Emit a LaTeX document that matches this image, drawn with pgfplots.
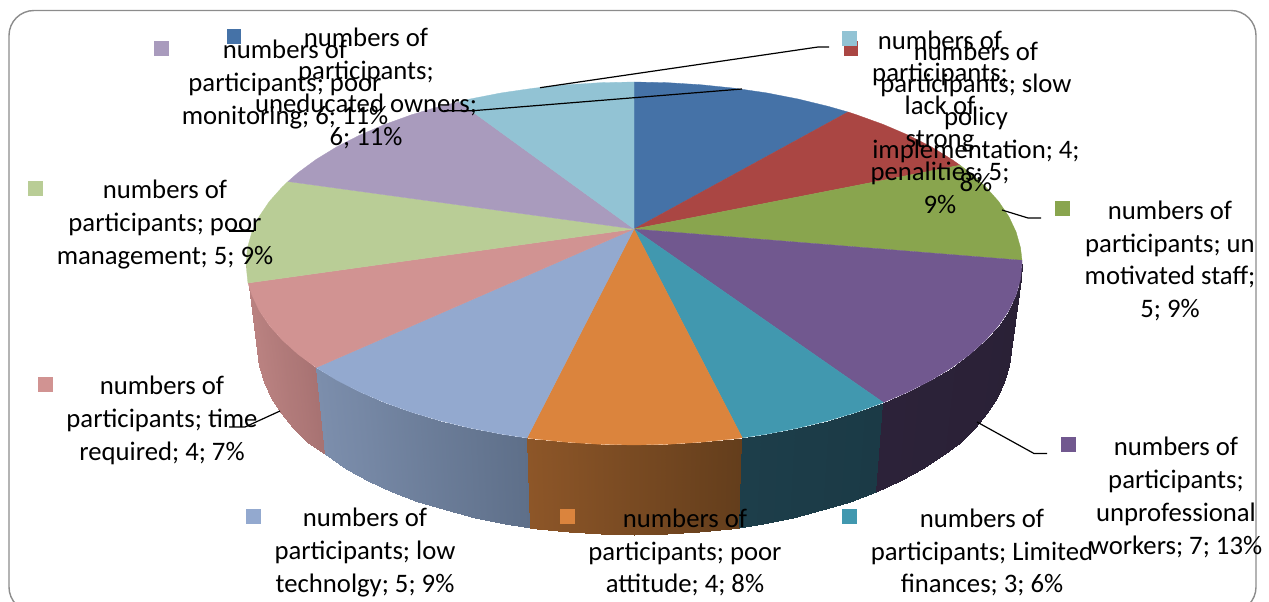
\documentclass[border=0pt]{standalone}
\usepackage{pgfplots}
\pgfplotsset{compat=1.18}
\usepackage{fontspec}
\setmainfont{Carlito}
% Office chart palette
\definecolor{cBlue}{HTML}{4572A7}
\definecolor{cRed}{HTML}{AA4643}
\definecolor{cGreen}{HTML}{89A54E}
\definecolor{cPurple}{HTML}{71588F}
\definecolor{cTeal}{HTML}{4198AF}
\definecolor{cOrange}{HTML}{DB843D}
\definecolor{cPeri}{HTML}{93A9CF}
\definecolor{cPink}{HTML}{D19392}
\definecolor{cLime}{HTML}{B9CD96}
\definecolor{cLilac}{HTML}{A99BBD}
\definecolor{cSky}{HTML}{92C3D4}
\tikzset{lbl/.style={align=center,inner sep=0pt,text=black,font=\fontsize{26.7}{32.8}\selectfont}}
\pgfplotsset{
  slice/.style={fill=#1,draw=#1,line width=0.3pt},
  key/.style={fill=#1,draw=none},
  leader/.style={black,line width=1.2pt},
  wall/.style={surf,shader=interp,mesh/rows=2,point meta=explicit},
}
\begin{document}
\begin{tikzpicture}
\useasboundingbox (0,0) rectangle (1269pt,602pt);
\begin{axis}[
  at={(0,0)},anchor=south west,
  scale only axis,width=1269pt,height=602pt,
  xmin=0,xmax=1269,ymin=0,ymax=602,y dir=reverse,
  hide axis,clip=true,point meta min=0,point meta max=1,
]
% outer frame of the chart area
\draw[color=black!45,line width=1.4pt,rounded corners=25pt] (axis cs:9,10.5) rectangle (axis cs:1256,612);

% rim of the disc, one strip per slice
\addplot[wall,colormap={w1}{rgb255=(186,130,129) rgb255=(167,114,114)}] table[x=x,y=y,meta=m] {
x y m
246 263.5 0
247.5 279.3 0.02
251.9 295 0.05
259.2 310.5 0.15
269.4 325.6 0.3
282.4 340.2 0.5
298 354.25 0.7
316.2 367.6 1
258 350 0
259.4 366.1 0.02
263.7 382.1 0.05
270.8 397.9 0.15
280.7 413.3 0.3
293.2 428.2 0.5
308.4 442.5 0.7
324.5 454 1
};
\addplot[wall,colormap={w2}{rgb255=(124,142,172) rgb255=(94,111,137)}] table[x=x,y=y,meta=m] {
x y m
316.2 367.6 0
336.8 380.2 0.1
359.6 391.8 0.2
384.6 402.5 0.33
411.4 412.2 0.46
440 420.7 0.6
470 428 0.73
501.3 434.1 0.88
527 438 1
324.5 454 0
346 468.9 0.1
368.1 480.8 0.2
392.3 491.7 0.33
418.3 501.5 0.46
446 510.2 0.6
475.1 517.7 0.73
505.4 523.8 0.88
530.4 527.8 1
};
\addplot[wall,colormap={w3}{rgb255=(141,86,40) rgb255=(100,62,28)}] table[x=x,y=y,meta=m] {
x y m
527 438 0
533.6 438.8 0.03
566.6 442.2 0.18
600.2 444.3 0.34
634 445 0.5
667.8 444.3 0.66
701.4 442.2 0.82
734.4 438.8 0.97
742.3 437.8 1
530.4 527.8 0
536.7 528.7 0.03
568.7 532.2 0.18
601.2 534.3 0.34
634 535 0.5
666.8 534.3 0.66
699.3 532.2 0.82
731.3 528.7 0.97
738.9 527.7 1
};
\addplot[wall,colormap={w4}{rgb255=(29,62,74) rgb255=(27,58,70)}] table[x=x,y=y,meta=m] {
x y m
742.3 437.8 0
766.7 434.1 0.17
798 428 0.4
828 420.7 0.62
856.6 412.2 0.82
883.4 402.5 1
738.9 527.7 0
762.6 523.8 0.17
792.9 517.7 0.4
822 510.2 0.62
849.7 501.5 0.82
875.7 491.7 1
};
\addplot[wall,colormap={w5}{rgb255=(44,34,57) rgb255=(42,33,54)}] table[x=x,y=y,meta=m] {
x y m
883.4 402.5 0
908.4 391.8 0.18
931.2 380.2 0.33
951.8 367.6 0.48
970 354.25 0.6
985.6 340.2 0.7
998.6 325.6 0.78
1008.8 310.5 0.85
1016.1 295 0.92
1020.5 279.3 0.97
1022 263.5 1
875.7 491.7 0
899.9 480.8 0.18
922 468.9 0.33
942 456.1 0.48
959.6 442.5 0.6
974.8 428.2 0.7
987.3 413.3 0.78
997.2 397.9 0.85
1004.3 382.1 0.92
1008.6 366.1 0.97
1010 350 1
};

% top face of the disc
\addplot[slice=cBlue] coordinates {(634,229)(634,82)(667.8,82.7)(701.4,84.8)(734.4,88.2)(766.7,92.9)(798,99)(828,106.3)(848,112)} --cycle;
\addplot[slice=cRed] coordinates {(634,229)(848,112)(856.6,114.8)(883.4,124.5)(908.4,135.2)(931.2,146.8)(951.8,159.4)(960,165.2)} --cycle;
\addplot[slice=cGreen] coordinates {(634,229)(960,165.2)(970,172.75)(985.6,186.8)(998.6,201.4)(1008.8,216.5)(1016.1,232)(1020.5,247.7)(1022,260.3)} --cycle;
\addplot[slice=cPurple] coordinates {(634,229)(1022,260.3)(1022,263.5)(1020.5,279.3)(1016.1,295)(1008.8,310.5)(998.6,325.6)(985.6,340.2)(970,354.25)(951.8,367.6)(931.2,380.2)(908.4,391.8)(883.4,402.5)} --cycle;
\addplot[slice=cTeal] coordinates {(634,229)(883.4,402.5)(856.6,412.2)(828,420.7)(798,428)(766.7,434.1)(742.3,437.8)} --cycle;
\addplot[slice=cOrange] coordinates {(634,229)(742.3,437.8)(734.4,438.8)(701.4,442.2)(667.8,444.3)(634,445)(600.2,444.3)(566.6,442.2)(533.6,438.8)(527,438)} --cycle;
\addplot[slice=cPeri] coordinates {(634,229)(527,438)(501.3,434.1)(470,428)(440,420.7)(411.4,412.2)(384.6,402.5)(359.6,391.8)(336.8,380.2)(316.2,367.6)} --cycle;
\addplot[slice=cPink] coordinates {(634,229)(316.2,367.6)(298,354.25)(282.4,340.2)(269.4,325.6)(259.2,310.5)(251.9,295)(248,283)} --cycle;
\addplot[slice=cLime] coordinates {(634,229)(248,283)(247.5,279.3)(246,263.5)(247.5,247.7)(251.9,232)(259.2,216.5)(269.4,201.4)(282.4,186.8)(288,181.5)} --cycle;
\addplot[slice=cLilac] coordinates {(634,229)(288,181.5)(298,172.75)(316.2,159.4)(336.8,146.8)(359.6,135.2)(384.6,124.5)(411.4,114.8)(440,106.3)(459,102)} --cycle;
\addplot[slice=cSky] coordinates {(634,229)(459,102)(470,99)(501.3,92.9)(533.6,88.2)(566.6,84.8)(600.2,82.7)(634,82)} --cycle;

% leader lines
\addplot[leader] coordinates {(829,47)(818,47)(540,87.7)};
\addplot[leader] coordinates {(742,89)(473,110.7)(444,110.7)};
\addplot[leader] coordinates {(1002,210)(1028,218)(1041,218)};
\addplot[leader] coordinates {(977,422)(1034,453.5)(1047,453.5)};
\addplot[leader] coordinates {(280,411)(245,427)(229,427)};
\addplot[leader] coordinates {(229,231)(254,231)};

% legend keys beside the labels
\addplot[key=cRed] coordinates {(843.5,41)(858,41)(858,56)(843.5,56)} --cycle;
\addplot[key=cSky] coordinates {(842,31)(857,31)(857,46)(842,46)} --cycle;
\addplot[key=cBlue] coordinates {(226.5,29)(241,29)(241,44)(226.5,44)} --cycle;
\addplot[key=cLilac] coordinates {(154,41)(169,41)(169,56)(154,56)} --cycle;
\addplot[key=cLime] coordinates {(28,181)(43,181)(43,196)(28,196)} --cycle;
\addplot[key=cGreen] coordinates {(1054.5,201)(1069.5,201)(1069.5,216)(1054.5,216)} --cycle;
\addplot[key=cPink] coordinates {(38,377)(53,377)(53,392)(38,392)} --cycle;
\addplot[key=cPeri] coordinates {(246,509)(261,509)(261,524)(246,524)} --cycle;
\addplot[key=cOrange] coordinates {(560,509)(575,509)(575,524)(560,524)} --cycle;
\addplot[key=cTeal] coordinates {(842,509)(857,509)(857,524)(842,524)} --cycle;
\addplot[key=cPurple] coordinates {(1060.5,437)(1075.5,437)(1075.5,452)(1060.5,452)} --cycle;

% data labels
\node[lbl] at (axis cs:366,88.5) {numbers of\\participants;\\uneducated owners;\\6; 11\%};
\node[lbl] at (axis cs:285,84.5) {numbers of\\participants; poor\\monitoring; 6; 11\%};
\node[lbl] at (axis cs:165,224.5) {numbers of\\participants; poor\\management; 5; 9\%};
\node[lbl] at (axis cs:940,122) {numbers of\\participants;\\lack of\\strong\\penalities; 5;\\9\%};
\node[lbl] at (axis cs:976,116.5) {numbers of\\participants; slow\\policy\\implementation; 4;\\8\%};
\node[lbl] at (axis cs:1170,261) {numbers of\\participants; un\\motivated staff;\\5; 9\%};
\node[lbl] at (axis cs:162,420.5) {numbers of\\participants; time\\required; 4; 7\%};
\node[lbl] at (axis cs:365,552.5) {numbers of\\participants; low\\technolgy; 5; 9\%};
\node[lbl] at (axis cs:685,552.5) {numbers of\\participants; poor\\attitude; 4; 8\%};
\node[lbl] at (axis cs:982,552.5) {numbers of\\participants; Limited\\finances; 3; 6\%};
\node[lbl] at (axis cs:1176,497.5) {numbers of\\participants;\\unprofessional\\workers; 7; 13\%};
\end{axis}
\end{tikzpicture}
\end{document}
